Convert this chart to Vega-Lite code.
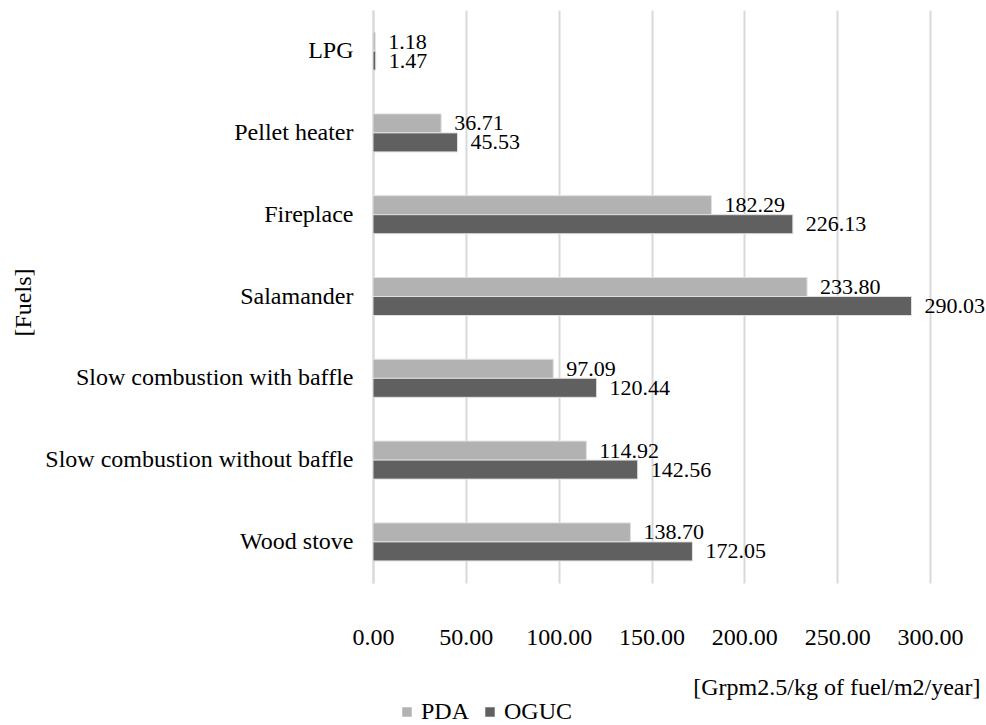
{
  "$schema": "https://vega.github.io/schema/vega-lite/v6.json",
  "width": 557,
  "height": 573,
  "autosize": "none",
  "padding": {"left": 373, "top": 10, "right": 56, "bottom": 142},
  "background": "white",
  "config": {
    "font": "'Liberation Serif', 'Times New Roman', serif",
    "view": {"stroke": null},
    "axis": {"labelFont": "'Liberation Serif', 'Times New Roman', serif", "titleFont": "'Liberation Serif', 'Times New Roman', serif", "labelColor": "#000000", "titleColor": "#000000", "titleFontWeight": "normal"},
    "legend": {"labelFont": "'Liberation Serif', 'Times New Roman', serif", "labelColor": "#000000"}
  },
  "data": {
    "values": [
      {"fuel": "LPG", "standard": "PDA", "value": 1.18},
      {"fuel": "LPG", "standard": "OGUC", "value": 1.47},
      {"fuel": "Pellet heater", "standard": "PDA", "value": 36.71},
      {"fuel": "Pellet heater", "standard": "OGUC", "value": 45.53},
      {"fuel": "Fireplace", "standard": "PDA", "value": 182.29},
      {"fuel": "Fireplace", "standard": "OGUC", "value": 226.13},
      {"fuel": "Salamander", "standard": "PDA", "value": 233.80},
      {"fuel": "Salamander", "standard": "OGUC", "value": 290.03},
      {"fuel": "Slow combustion with baffle", "standard": "PDA", "value": 97.09},
      {"fuel": "Slow combustion with baffle", "standard": "OGUC", "value": 120.44},
      {"fuel": "Slow combustion without baffle", "standard": "PDA", "value": 114.92},
      {"fuel": "Slow combustion without baffle", "standard": "OGUC", "value": 142.56},
      {"fuel": "Wood stove", "standard": "PDA", "value": 138.70},
      {"fuel": "Wood stove", "standard": "OGUC", "value": 172.05}
    ]
  },
  "encoding": {
    "y": {
      "field": "fuel",
      "type": "nominal",
      "sort": ["LPG", "Pellet heater", "Fireplace", "Salamander", "Slow combustion with baffle", "Slow combustion without baffle", "Wood stove"],
      "scale": {"paddingInner": 0.535, "paddingOuter": 0.27},
      "axis": {
        "title": "[Fuels]",
        "titleFontSize": 24,
        "titleAngle": -90,
        "titleX": -350,
        "titleY": 292,
        "titleAlign": "center",
        "titleBaseline": "middle",
        "labelFontSize": 24,
        "labelPadding": 20,
        "ticks": false,
        "domain": true,
        "domainColor": "#d9d9d9",
        "domainWidth": 2,
        "labelLimit": 400
      }
    },
    "yOffset": {"field": "standard", "type": "nominal", "sort": ["PDA", "OGUC"], "scale": {"paddingInner": 0, "paddingOuter": 0}},
    "x": {
      "field": "value",
      "type": "quantitative",
      "scale": {"domain": [0, 300], "nice": false},
      "axis": {
        "values": [0, 50, 100, 150, 200, 250, 300],
        "format": ".2f",
        "title": "[Grpm2.5/kg of fuel/m2/year]",
        "titleFontSize": 24,
        "titleAnchor": "end",
        "titleAlign": "right",
        "titleX": 607,
        "titleY": 104,
        "titleBaseline": "middle",
        "labelFontSize": 24,
        "labelPadding": 42,
        "labelFlush": false,
        "labelBound": false,
        "labelOverlap": false,
        "ticks": false,
        "domain": false,
        "grid": true,
        "gridColor": "#d9d9d9",
        "gridWidth": 2
      }
    }
  },
  "layer": [
    {
      "mark": {"type": "bar", "stroke": "#e0e0e0", "strokeWidth": 1},
      "encoding": {
        "color": {
          "field": "standard",
          "type": "nominal",
          "sort": ["PDA", "OGUC"],
          "scale": {"domain": ["PDA", "OGUC"], "range": ["#b2b2b2", "#606060"]},
          "legend": {
            "title": null,
            "orient": "none",
            "direction": "horizontal",
            "legendX": 22,
            "legendY": 690,
            "symbolType": "square",
            "symbolSize": 90,
            "symbolStrokeWidth": 0,
            "labelFontSize": 24,
            "labelOffset": 2,
            "columnPadding": 8
          }
        }
      }
    },
    {
      "mark": {"type": "text", "align": "left", "baseline": "middle", "dx": 13, "fontSize": 22, "font": "'Liberation Serif', 'Times New Roman', serif", "color": "#000000"},
      "encoding": {
        "text": {"field": "value", "type": "quantitative", "format": ".2f"}
      }
    }
  ]
}
